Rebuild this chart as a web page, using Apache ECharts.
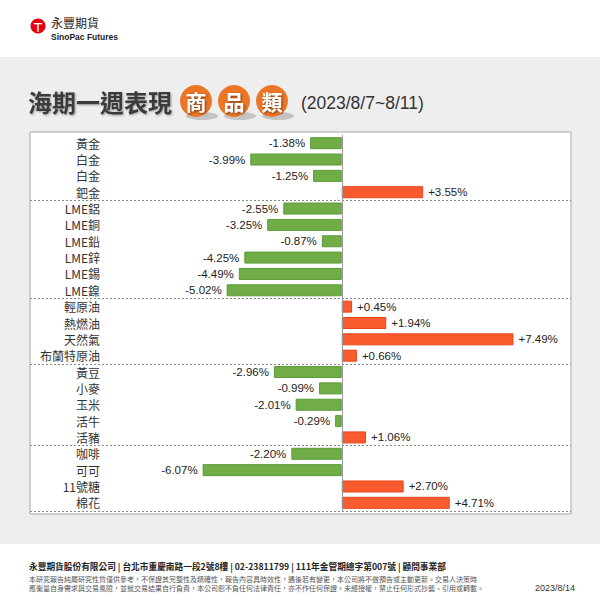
<!DOCTYPE html>
<html>
<head>
<meta charset="utf-8">
<script src="https://cdn.jsdelivr.net/npm/echarts@6/dist/echarts.min.js"></script>
<style>
html,body{margin:0;padding:0;background:#fff;}
#c{width:600px;height:600px;}
</style>
</head>
<body>
<div id="c"></div>
<script>
const categories = ['黃金','白金','白金','鈀金','LME鋁','LME銅','LME鉛','LME鋅','LME錫','LME鎳','輕原油','熱燃油','天然氣','布蘭特原油','黃豆','小麥','玉米','活牛','活豬','咖啡','可可','11號糖','棉花'];
const changes = [-1.38,-3.99,-1.25,3.55,-2.55,-3.25,-0.87,-4.25,-4.49,-5.02,0.45,1.94,7.49,0.66,-2.96,-0.99,-2.01,-0.29,1.06,-2.20,-6.07,2.70,4.71];
const groupStarts = [4,10,14,19];
const titleMain = '海期一週表現';
const titleBadges = ['商','品','類'];
const titleDate = '(2023/8/7~8/11)';
const footerLine = '永豐期貨股份有限公司 | 台北市重慶南路一段2號8樓 | 02-23811799 | 111年金管期總字第007號 | 顧問事業部';
const disclaimer1 = '本研究報告純屬研究性質僅供參考，不保證其完整性及精確性，報告內容具時效性，遇後若有變更，本公司將不做預告或主動更新。交易人決策時';
const disclaimer2 = '應衡量自身需求與交易風險，並就交易結果自行負責，本公司恕不負任何法律責任，亦不作任何保證。未經授權，禁止任何形式抄襲、引用或轉載。';
const reportDate = '2023/8/14';

const CJK = '"Noto Sans CJK TC","Noto Sans",sans-serif';
const LAT = '"Liberation Sans","Noto Sans CJK TC",sans-serif';
const GREEN = '#70AD47', GREEN_B = '#5B9A38';
const ORANGE = '#FA5B2E', ORANGE_B = '#E8441A';

const chart = echarts.init(document.getElementById('c'), null, {renderer:'svg'});

const barData = changes.map(v => ({
  value: v,
  itemStyle: {color: v < 0 ? GREEN : ORANGE, borderColor: v < 0 ? GREEN_B : ORANGE_B, borderWidth: 1},
  label: {position: v < 0 ? 'left' : 'right'}
}));

const badgeX = [196, 234, 272];
const graphics = [
  {type:'rect', z:-10, shape:{x:0,y:57,width:600,height:487}, style:{fill:'#eeeeee'}},
  {type:'rect', z:-5, shape:{x:30,y:132,width:541,height:382}, style:{fill:'#ffffff', stroke:'#a8a8a8', lineWidth:1}},
  // logo
  {type:'circle', shape:{cx:38,cy:26,r:7.5}, style:{fill:'#E60012'}},
  {type:'text', style:{text:'ㄒ', x:38, y:26.5, fill:'#fff', font:'bold 10px '+CJK, textAlign:'center', textVerticalAlign:'middle'}},
  {type:'text', style:{text:'永豐期貨', x:51, y:22.5, fill:'#222', font:'12px '+CJK, textVerticalAlign:'middle'}},
  {type:'text', style:{text:'SinoPac Futures', x:51, y:36.5, fill:'#222', font:'bold 8.5px '+LAT, textVerticalAlign:'middle'}},
  // title
  {type:'text', style:{text:titleMain, x:28, y:101, fill:'#3a3a3a', font:'bold 24px '+CJK, textVerticalAlign:'middle',
     textShadowColor:'rgba(0,0,0,0.35)', textShadowBlur:2, textShadowOffsetX:1, textShadowOffsetY:1}},
  {type:'text', style:{text:titleDate, x:301, y:103, fill:'#333', font:'17.5px '+LAT, textVerticalAlign:'middle'}}
];
titleBadges.forEach((ch, i) => {
  graphics.push({type:'ellipse', shape:{cx:badgeX[i]+6, cy:116, rx:16, ry:4}, style:{fill:'rgba(0,0,0,0.18)'}});
  graphics.push({type:'circle', shape:{cx:badgeX[i], cy:101, r:16}, style:{fill:'#EC7626'}});
  graphics.push({type:'text', style:{text:ch, x:badgeX[i], y:101, fill:'#fff', font:'bold 21px '+CJK, textAlign:'center', textVerticalAlign:'middle',
     textShadowColor:'rgba(90,40,0,0.8)', textShadowBlur:2, textShadowOffsetX:1, textShadowOffsetY:1}});
});
graphics.push(
  {type:'text', style:{text:footerLine, x:29, y:566, fill:'#222', font:'bold 8.7px '+CJK, textVerticalAlign:'middle'}},
  {type:'text', style:{text:disclaimer1, x:29, y:578.5, fill:'#555', font:'7px '+CJK, textVerticalAlign:'middle'}},
  {type:'text', style:{text:disclaimer2, x:29, y:587.5, fill:'#555', font:'7px '+CJK, textVerticalAlign:'middle'}},
  {type:'text', style:{text:reportDate, x:575, y:588, fill:'#333', font:'9px '+LAT, textAlign:'right', textVerticalAlign:'middle'}}
);

chart.setOption({
  animation:false,
  backgroundColor:'#ffffff',
  graphic: graphics,
  grid:{left:30, right:29, top:135, bottom:89, containLabel:false},
  xAxis:{type:'value', min:-13.6, max:10, show:false},
  yAxis:{
    type:'category', inverse:true, data:categories, offset:-72,
    axisLine:{show:false, onZero:false}, axisTick:{show:false},
    axisLabel:{margin:2, color:'#333', fontSize:12, fontFamily:CJK, interval:0},
    splitLine:{show:true, interval:(idx)=>groupStarts.includes(idx), lineStyle:{color:'#888', width:1, type:[2,2]}}
  },
  series:[{
    type:'bar', data:barData, barWidth:12,
    label:{show:true, distance:5, color:'#222', fontSize:11.5, fontFamily:LAT,
      formatter:(p)=> (p.value > 0 ? '+' : '') + p.value.toFixed(2) + '%'},
    markLine:{silent:true, symbol:['none','none'], label:{show:false},
      lineStyle:{color:'#999', type:'solid', width:1}, data:[{xAxis:0}]}
  }]
});
</script>
</body>
</html>
